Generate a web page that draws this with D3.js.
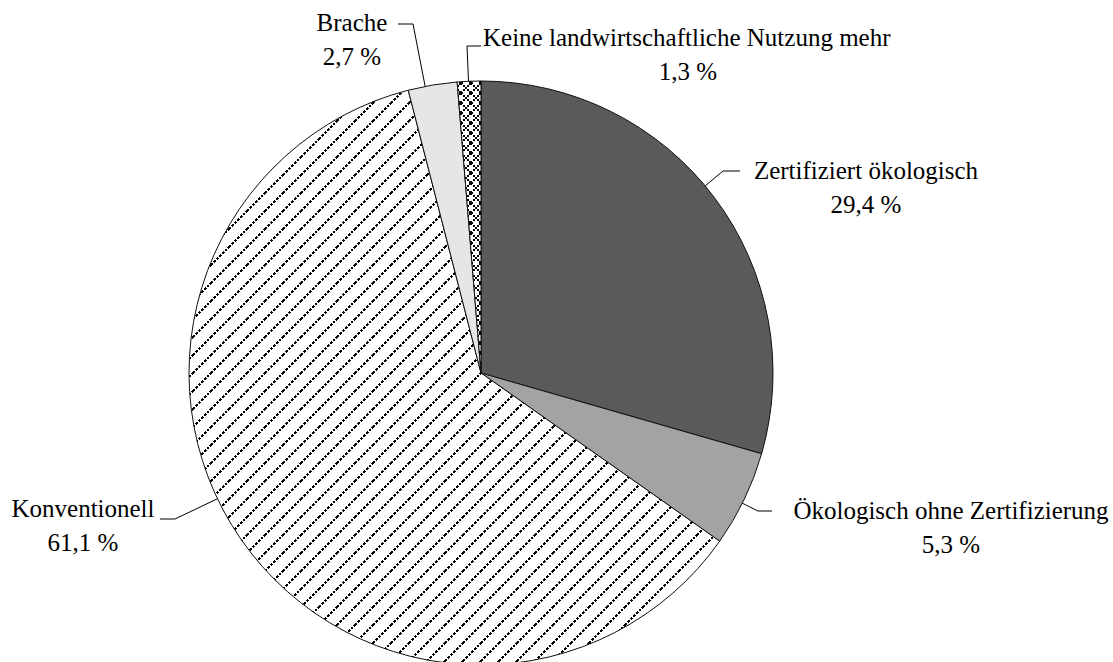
<!DOCTYPE html>
<html>
<head>
<meta charset="utf-8">
<script src="https://cdn.jsdelivr.net/npm/d3@7"></script>
<style>
  body { margin: 0; background: #fff; }
</style>
</head>
<body>
<div id="chart"></div>
<script>
// slice data, clockwise from 12 o'clock
var categories = ['Zertifiziert ökologisch', 'Ökologisch ohne Zertifizierung', 'Konventionell', 'Brache', 'Keine landwirtschaftliche Nutzung mehr'];
var shares = [29.4, 5.3, 61.1, 2.7, 1.3];
var shareLabels = ['29,4 %', '5,3 %', '61,1 %', '2,7 %', '1,3 %'];

// fills: plain colours or pattern ids
var fills = ['#5a5a5a', '#a3a3a3', 'url(#hatch)', '#e6e6e6', 'url(#cross)'];

// label layout: elbow of leader, end of leader, text x, first baseline
var labelLayout = [
  { elbow: [723, 171], end: [740, 171], tx: 866, ty: 179 },
  { elbow: [758, 511], end: [772, 511], tx: 951, ty: 519 },
  { elbow: [175, 519], end: [160, 519], tx: 83, ty: 517 },
  { elbow: [413, 24], end: [398, 24], tx: 352, ty: 31 },
  { elbow: [467, 46], end: [481, 46], tx: 688, ty: 46, firstLineX: 483 }
];

var width = 1113, height = 662;
var cx = 481, cy = 373, radius = 292;

var svg = d3.select('#chart').append('svg')
  .attr('width', width)
  .attr('height', height);

var defs = svg.append('defs');

var hatch = defs.append('pattern')
  .attr('id', 'hatch')
  .attr('patternUnits', 'userSpaceOnUse')
  .attr('width', 18)
  .attr('height', 18);
hatch.append('rect').attr('width', 18).attr('height', 18).attr('fill', '#fff');
hatch.append('path')
  .attr('d', 'M-4.5,4.5L4.5,-4.5M0,18L18,0M13.5,22.5L22.5,13.5')
  .attr('stroke', '#000')
  .attr('stroke-width', 2.2)
  .attr('stroke-dasharray', '2.6,1.4')
  .attr('shape-rendering', 'crispEdges');

var cross = defs.append('pattern')
  .attr('id', 'cross')
  .attr('patternUnits', 'userSpaceOnUse')
  .attr('width', 10)
  .attr('height', 10);
cross.append('rect').attr('width', 10).attr('height', 10).attr('fill', '#fff');
cross.append('path')
  .attr('d', 'M0,0L10,10M0,10L10,0')
  .attr('stroke', '#000')
  .attr('stroke-width', 1.8)
  .attr('stroke-dasharray', '2,1')
  .attr('shape-rendering', 'crispEdges');

var pie = d3.pie().sort(null).value(function(d) { return d; });
var arcs = pie(shares);

var arc = d3.arc().innerRadius(0).outerRadius(radius);

var g = svg.append('g').attr('transform', 'translate(' + cx + ',' + cy + ')');

g.selectAll('path.slice')
  .data(arcs)
  .enter().append('path')
  .attr('class', 'slice')
  .attr('d', arc)
  .attr('fill', function(d, i) { return fills[i]; })
  .attr('stroke', '#111')
  .attr('stroke-width', 1);

// leaders: from pie edge toward elbow, then horizontal
labelLayout.forEach(function(lay, i) {
  var dx = lay.elbow[0] - cx, dy = lay.elbow[1] - cy;
  var len = Math.sqrt(dx * dx + dy * dy);
  var ax = cx + dx / len * radius, ay = cy + dy / len * radius;
  svg.append('path')
    .attr('d', d3.line()([[ax, ay], lay.elbow, lay.end]))
    .attr('fill', 'none')
    .attr('stroke', '#000')
    .attr('stroke-width', 1);

  var t = svg.append('text')
    .attr('font-family', '"Liberation Serif", "Times New Roman", Times, serif')
    .attr('font-size', 25)
    .attr('fill', '#000')
    .attr('text-anchor', 'middle');
  if (lay.firstLineX) {
    t.append('tspan').attr('x', lay.firstLineX).attr('y', lay.ty).attr('text-anchor', 'start').text(categories[i]);
  } else {
    t.append('tspan').attr('x', lay.tx).attr('y', lay.ty).text(categories[i]);
  }
  t.append('tspan').attr('x', lay.tx).attr('y', lay.ty + 34).text(shareLabels[i]);
});
</script>
</body>
</html>
